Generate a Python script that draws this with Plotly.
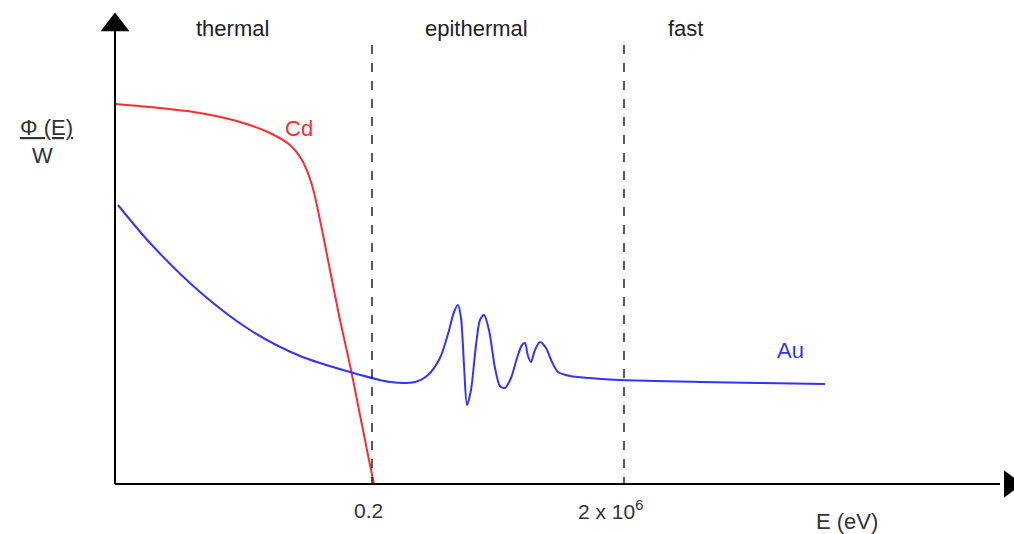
import plotly.graph_objects as go

# Schematic curves (x: position along E axis, y: flux level; screen-like units)
cd_x = [115, 150, 200, 240, 270, 290, 302, 312, 320, 330, 340, 350, 358, 365, 370, 374]
cd_y = [104, 107, 113, 122, 133, 145, 160, 185, 220, 270, 320, 365, 405, 440, 465, 484]

au_x = [118, 150, 200, 250, 300, 350, 390, 415, 428, 440, 448, 454, 458, 461, 464, 467, 471, 476, 480, 484, 489, 495, 500, 505, 511, 517, 522, 525, 528, 531, 535, 540, 546, 552, 558, 570, 590, 620, 700, 760, 825]
au_y = [205, 243, 292, 330, 356, 372, 382, 382, 375, 358, 334, 312, 305, 318, 365, 405, 390, 345, 320, 315, 330, 368, 386, 388, 378, 358, 345, 343, 356, 362, 350, 342, 348, 362, 372, 376, 378, 380, 382, 383, 384]

region_labels = ["thermal", "epithermal", "fast"]
region_label_x = [232, 476, 685]
boundary_x = [372, 624]
tick_labels = ["0.2", "2 x 10<sup>6</sup>"]
tick_x = [368, 610]

FONT = "Liberation Sans, Arial, sans-serif"
FS = 22

fig = go.Figure()
fig.add_trace(go.Scatter(x=cd_x, y=cd_y, mode="lines", line=dict(color="#ff2a2a", width=2, shape="spline", smoothing=0.8), hoverinfo="skip"))
fig.add_trace(go.Scatter(x=au_x, y=au_y, mode="lines", line=dict(color="#3333ff", width=2, shape="spline", smoothing=0.8), hoverinfo="skip"))

# axes lines
fig.add_shape(type="line", x0=115, x1=115, y0=484, y1=28, line=dict(color="black", width=2))
fig.add_shape(type="line", x0=115, x1=1000, y0=484, y1=484, line=dict(color="black", width=2))
# arrow heads
fig.add_trace(go.Scatter(x=[115], y=[25], mode="markers", cliponaxis=False, marker=dict(symbol="triangle-up", size=25, color="black"), hoverinfo="skip"))
fig.add_trace(go.Scatter(x=[1010], y=[484], mode="markers", cliponaxis=False, marker=dict(symbol="triangle-right", size=24, color="black"), hoverinfo="skip"))

for bx in boundary_x:
    fig.add_shape(type="line", x0=bx, x1=bx, y0=45, y1=484, line=dict(color="black", width=1.3, dash="dash"))

ann = []
for t, x in zip(region_labels, region_label_x):
    ann.append(dict(x=x, y=28, text=t, showarrow=False, font=dict(size=FS, color="#222", family=FONT)))
for t, x in zip(tick_labels, tick_x):
    ann.append(dict(x=x, y=510, text=t, showarrow=False, font=dict(size=FS - 1, color="#333", family=FONT)))
ann.append(dict(x=847, y=521, text="E (eV)", showarrow=False, font=dict(size=FS, color="#333", family=FONT)))
ann.append(dict(x=299, y=128, text="Cd", showarrow=False, font=dict(size=FS, color="#ff2a2a", family=FONT)))
ann.append(dict(x=790, y=350, text="Au", showarrow=False, font=dict(size=FS, color="#3333ff", family=FONT)))
ann.append(dict(x=46, y=127, text="<u>Φ (E)</u>", showarrow=False, font=dict(size=FS, color="#333", family=FONT)))
ann.append(dict(x=42, y=155, text="W", showarrow=False, font=dict(size=FS, color="#333", family=FONT)))

fig.update_layout(
    width=1014, height=534, margin=dict(l=0, r=0, t=0, b=0),
    paper_bgcolor="white", plot_bgcolor="white", showlegend=False,
    xaxis=dict(range=[0, 1014], visible=False, fixedrange=True),
    yaxis=dict(range=[534, 0], visible=False, fixedrange=True),
    annotations=ann,
)
# remove the default 8px page margin so the figure fills the window exactly
fig.write_html("out.html", config={"displayModeBar": False},
               post_script="document.body.style.margin='0';document.body.style.overflow='hidden';")
